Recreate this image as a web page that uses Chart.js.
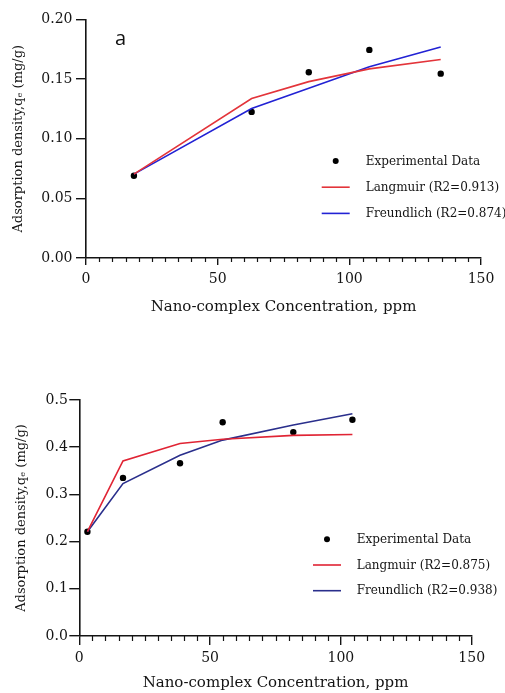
<!DOCTYPE html>
<html><head><meta charset="utf-8">
<script src="https://cdn.jsdelivr.net/npm/chart.js@4"></script>
<style>
html,body{margin:0;padding:0;background:#fff;width:505px;height:693px;overflow:hidden}
.box{position:absolute;left:0;width:505px}
canvas{display:block}
</style></head><body>
<div class="box" style="top:0;height:330px"><canvas id="cA" width="505" height="330" style="width:505px;height:330px"></canvas></div>
<div class="box" style="top:330px;height:363px"><canvas id="cB" width="505" height="363" style="width:505px;height:363px"></canvas></div>
<script>
// ---------- data ----------
const xTickValues = [0, 50, 100, 150];
const yTicksA = [0, 0.05, 0.10, 0.15, 0.20];
const yTicksB = [0, 0.1, 0.2, 0.3, 0.4, 0.5];

const concA = [18.2, 62.9, 84.6, 107.6, 134.7];
const expA  = [0.069, 0.1225, 0.1558, 0.1745, 0.1546];
const langA = [0.0703, 0.1337, 0.1479, 0.1586, 0.1664];
const freuA = [0.0703, 0.1253, 0.1423, 0.1603, 0.1770];
const labelsA = ['Experimental Data', 'Langmuir (R2=0.913)', 'Freundlich (R2=0.874)'];

const concB = [3.1, 16.7, 38.5, 54.8, 81.8, 104.4];
const expB  = [0.221, 0.335, 0.366, 0.453, 0.432, 0.458];
const langB = [0.221, 0.371, 0.408, 0.417, 0.425, 0.427];
const freuB = [0.221, 0.323, 0.383, 0.415, 0.447, 0.471];
const labelsB = ['Experimental Data', 'Langmuir (R2=0.875)', 'Freundlich (R2=0.938)'];

const xTitle = 'Nano-complex Concentration, ppm';
const yTitle = 'Adsorption density,q\u2091 (mg/g)';

// ---------- helpers ----------
const SERIF = '"DejaVu Serif", serif';
const INK = '#141414';

function pts(xs, ys) { return xs.map((x, i) => ({x: x, y: ys[i]})); }

function makeChart(id, d, s) {
  const overlay = {
    id: 'overlay' + id,
    afterDraw(chart) {
      const ctx = chart.ctx;
      const xs = chart.scales.x, area = chart.chartArea;
      ctx.save();
      // minor x ticks
      ctx.strokeStyle = INK; ctx.lineWidth = 1.2;
      for (let v = xs.min; v <= xs.max + 1e-9; v += s.minorStep) {
        if (Math.abs(v % 50) < 1e-9) continue;
        const px = Math.round(xs.getPixelForValue(v)) + 0.5;
        ctx.beginPath(); ctx.moveTo(px, area.bottom); ctx.lineTo(px, area.bottom + s.minorLen); ctx.stroke();
      }
      // legend
      ctx.font = s.legendFont; ctx.textBaseline = 'middle'; ctx.textAlign = 'left';
      const order = [2, 0, 1];
      order.forEach((di, row) => {
        const ds = chart.data.datasets[di];
        const y = s.legY + row * s.legGap;
        if (ds.showLine === false) {
          ctx.fillStyle = ds.pointBackgroundColor;
          ctx.beginPath(); ctx.arc(s.legX, y, 3, 0, Math.PI * 2); ctx.fill();
        } else {
          ctx.strokeStyle = ds.borderColor; ctx.lineWidth = ds.borderWidth;
          ctx.beginPath(); ctx.moveTo(s.legX - 14, y); ctx.lineTo(s.legX + 14, y); ctx.stroke();
        }
        ctx.fillStyle = INK;
        ctx.fillText(ds.label, s.legTextX, y + 0.5);
      });
      if (s.panel) {
        ctx.font = '20px "Open Sans", sans-serif';
        ctx.fillStyle = '#111'; ctx.textAlign = 'center'; ctx.textBaseline = 'alphabetic';
        ctx.fillText(s.panel, s.panelX, s.panelY);
      }
      ctx.restore();
    }
  };
  return new Chart(document.getElementById(id), {
    type: 'scatter',
    data: {
      datasets: [
        {label: d.labels[1], data: pts(d.conc, d.lang), showLine: true, borderColor: s.red, backgroundColor: s.red, borderWidth: 1.6, pointRadius: 0, tension: 0},
        {label: d.labels[2], data: pts(d.conc, d.freu), showLine: true, borderColor: s.blue, backgroundColor: s.blue, borderWidth: 1.6, pointRadius: 0, tension: 0},
        {label: d.labels[0], data: pts(d.conc, d.exp), showLine: false, pointRadius: 3.2, pointBackgroundColor: '#000', pointBorderColor: '#000', borderColor: '#000', backgroundColor: '#000', pointBorderWidth: 0}
      ]
    },
    options: {
      responsive: false, animation: false, devicePixelRatio: 1,
      layout: {padding: s.padding},
      plugins: {legend: {display: false}, tooltip: {enabled: false}},
      scales: {
        x: {
          type: 'linear', min: 0, max: 150,
          afterBuildTicks: sc => { sc.ticks = xTickValues.map(v => ({value: v})); },
          afterFit: sc => { sc.height = s.xHeight; },
          border: {display: true, color: INK, width: 1.6},
          grid: {display: true, drawOnChartArea: false, drawTicks: true, tickLength: s.xTickLen, color: INK, lineWidth: 1.4},
          ticks: {font: {family: SERIF, size: 14}, color: INK, padding: s.xTickPad, maxRotation: 0, callback: v => String(v)},
          title: {display: true, text: xTitle, font: {family: SERIF, size: 15}, color: INK, padding: {top: 0, bottom: 0}}
        },
        y: {
          type: 'linear', min: 0, max: d.yTicks[d.yTicks.length - 1],
          afterBuildTicks: sc => { sc.ticks = d.yTicks.map(v => ({value: v})); },
          afterFit: sc => { sc.width = s.yWidth; },
          border: {display: true, color: INK, width: 1.6},
          grid: {display: true, drawOnChartArea: false, drawTicks: true, tickLength: 10, color: INK, lineWidth: 1.4},
          ticks: {font: {family: SERIF, size: 14}, color: INK, padding: s.yTickPad, callback: v => Number(v).toFixed(d.dec)},
          title: {display: true, text: yTitle, font: {family: SERIF, size: 13}, color: INK, padding: {top: s.yTitlePad, bottom: 0}}
        }
      }
    },
    plugins: [overlay]
  });
}

makeChart('cA',
  {conc: concA, exp: expA, lang: langA, freu: freuA, labels: labelsA, yTicks: yTicksA, dec: 2},
  {padding: {left: 0, right: 24, top: 19.5, bottom: 14.3}, yWidth: 86, xHeight: 57.7,
   xTickLen: 7, minorLen: 4, minorStep: 5, xTickPad: 6, yTickPad: 3.5, yTitlePad: 10.5,
   red: '#e3343a', blue: '#2222d4',
   legX: 335.7, legY: 161, legGap: 26.2, legTextX: 365.7, legendFont: '12px ' + SERIF,
   panel: 'a', panelX: 120.5, panelY: 44.5});

makeChart('cB',
  {conc: concB, exp: expB, lang: langB, freu: freuB, labels: labelsB, yTicks: yTicksB, dec: 1},
  {padding: {left: 0, right: 33.3, top: 70, bottom: 1}, yWidth: 79.3, xHeight: 56,
   xTickLen: 9, minorLen: 5, minorStep: 5, xTickPad: 4.6, yTickPad: 1.5, yTitlePad: 14,
   red: '#e02434', blue: '#2a2f8c',
   legX: 327, legY: 209.3, legGap: 25.7, legTextX: 356.7, legendFont: '12px ' + SERIF,
   panel: null});
</script>
</body></html>
